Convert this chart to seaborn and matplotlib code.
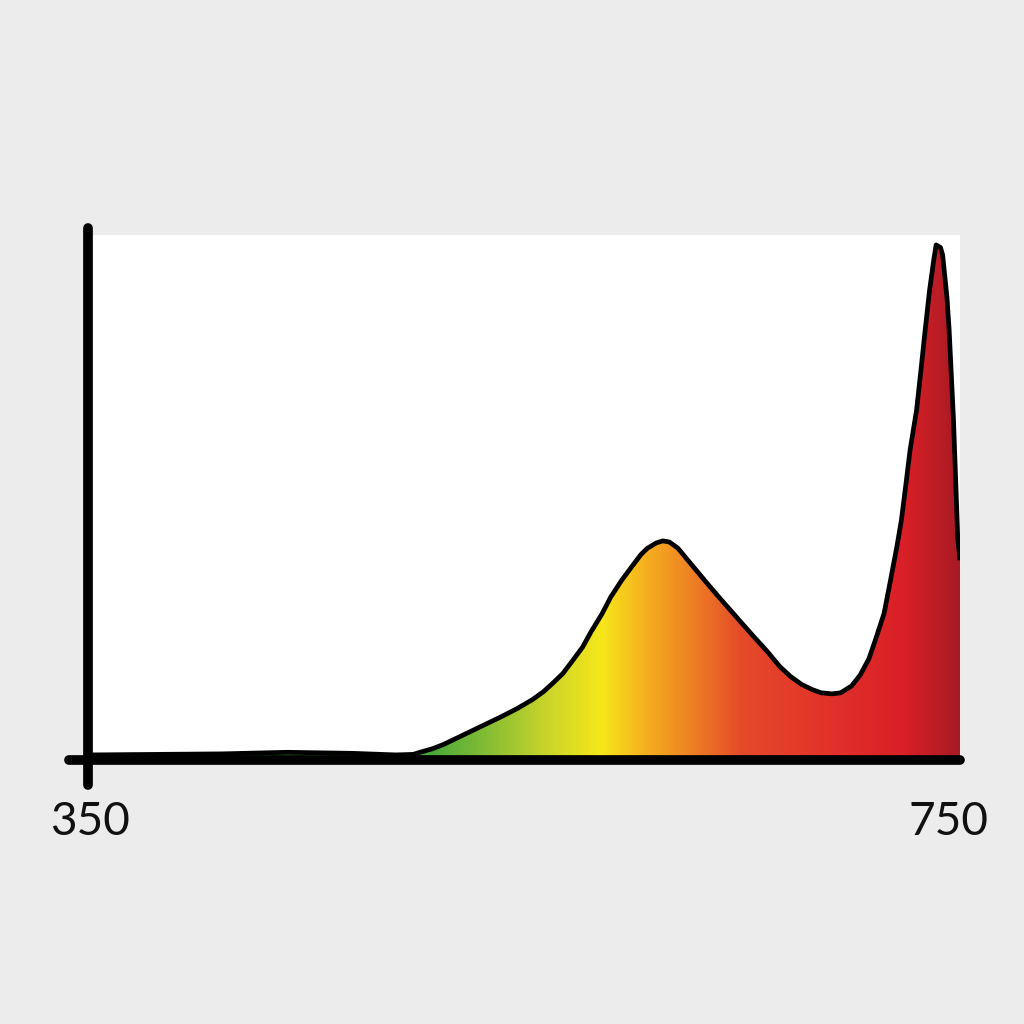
import numpy as np
import pandas as pd
import matplotlib.pyplot as plt
import seaborn as sns
from matplotlib.colors import LinearSegmentedColormap
from matplotlib.patches import Polygon

# spectrum (nm, relative intensity 0-100)
wavelength = [350, 380, 410, 440, 470, 490, 498, 502, 507, 512, 518, 525, 532, 539,
              546, 553, 558, 562, 567, 571, 576, 580, 585, 589, 594, 599, 603, 606,
              610, 613, 616, 620, 626, 633, 640, 647, 654, 661, 667, 672, 677, 682,
              686, 691, 695, 700, 704, 708, 711, 715, 718, 721, 723, 725, 727, 730,
              732, 734, 736, 738, 739, 741, 742, 744, 745, 747, 749, 750]
intensity = [0.4, 0.5, 0.6, 0.9, 0.7, 0.4, 0.5, 1.0, 1.6, 2.4, 3.6, 5.0, 6.4, 7.8,
             9.3, 11.0, 12.5, 14.0, 16.0, 18.2, 21.0, 24.0, 27.4, 30.6, 33.8, 36.6, 38.8, 40.0,
             41.0, 41.4, 41.2, 40.0, 37.0, 33.5, 30.1, 26.8, 23.5, 20.3, 17.3, 15.4, 13.9, 12.9,
             12.3, 12.1, 12.3, 13.6, 15.7, 18.8, 22.4, 27.5, 33.9, 40.5, 45.4, 52.0, 58.8, 66.5,
             74.1, 82.0, 89.5, 95.5, 98.1, 97.6, 96.2, 88.0, 81.8, 64.6, 41.6, 37.7]

tick_values = [350, 750]
tick_labels = ["350", "750"]

# spectral colours for the fill
stops_nm = [350, 505, 530, 560, 585, 603, 625, 650, 690, 725, 750]
stop_colors = ["#3c9f38", "#48a83b", "#80bb35", "#cad52a", "#f6e71a", "#f7b51e",
               "#ee8423", "#e54a29", "#e2322a", "#d91f27", "#a91b24"]

df = pd.DataFrame({"nm": wavelength, "value": intensity})

sns.set_style("white")
plt.rcParams["font.family"] = ["Lato", "DejaVu Sans"]

fig = plt.figure(figsize=(10.24, 10.24), dpi=100, facecolor="#ececec")
ax = fig.add_axes([92 / 1024, 1 - 757 / 1024, 868 / 1024, 522 / 1024])
ax.set_facecolor("white")

lo, hi = tick_values
cmap = LinearSegmentedColormap.from_list(
    "spec", [((s - lo) / (hi - lo), c) for s, c in zip(stops_nm, stop_colors)])
grad = np.linspace(0, 1, 800).reshape(1, -1)
img = ax.imshow(grad, extent=[lo, hi, 0, 100], aspect="auto", cmap=cmap,
                origin="lower", zorder=1, interpolation="bilinear")
verts = list(zip(df["nm"], df["value"])) + [(df["nm"].iloc[-1], 0), (df["nm"].iloc[0], 0)]
clip = Polygon(verts, closed=True, transform=ax.transData, facecolor="none", edgecolor="none")
ax.add_patch(clip)
img.set_clip_path(clip)

sns.lineplot(data=df, x="nm", y="value", ax=ax, color="black", lw=3.4,
             zorder=3, sort=False, solid_joinstyle="round", solid_capstyle="butt")

ax.set_xlim(lo, hi)
ax.set_ylim(0, 100)
ax.set(xlabel=None, ylabel=None, xticks=[], yticks=[])
for s in ax.spines.values():
    s.set_visible(False)

# hand drawn axes
ax.plot([348.2, 348.2], [-5.4, 101.3], color="black", lw=7, solid_capstyle="round",
        clip_on=False, zorder=4)
ax.plot([339.5, 750], [-0.6, -0.6], color="black", lw=7, solid_capstyle="round",
        clip_on=False, zorder=4)

for v, lab, xx in zip(tick_values, tick_labels, [349.0, 744.5]):
    ax.text(xx, -12.5, lab, ha="center", va="center", fontsize=33, color="#111111",
            clip_on=False)

fig.savefig("out.png", dpi=100, facecolor=fig.get_facecolor())
